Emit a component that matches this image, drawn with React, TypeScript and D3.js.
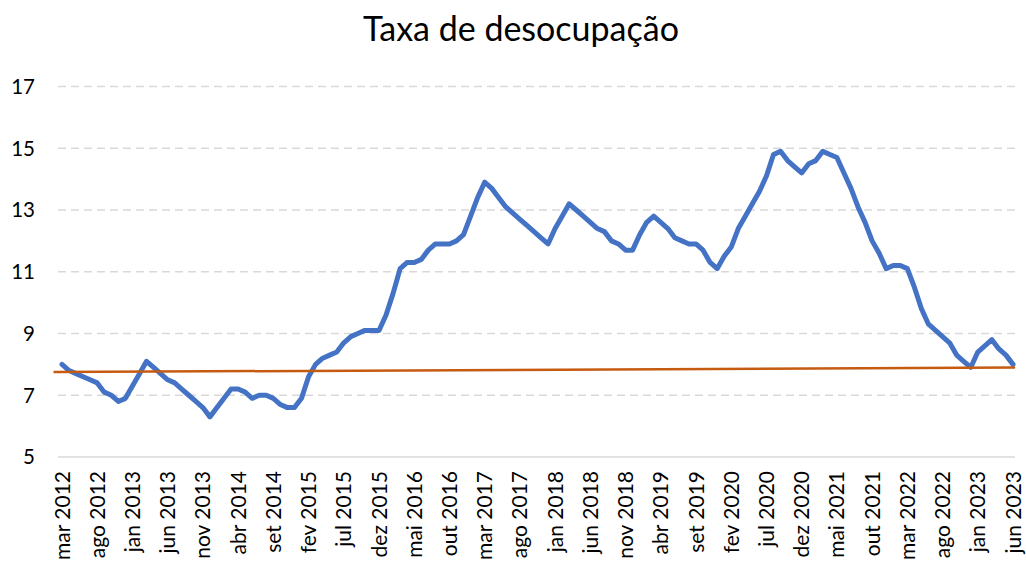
import React from 'react';
import * as d3 from 'd3';

const monthNames = ['jan', 'fev', 'mar', 'abr', 'mai', 'jun', 'jul', 'ago', 'set', 'out', 'nov', 'dez'];
const startYear = 2012;
const startMonth = 2; // mar

// taxa de desocupação, trimestre móvel (mar 2012 .. jun 2023)
const values2012 = [8.0, 7.8, 7.7, 7.6, 7.5, 7.4, 7.1, 7.0, 6.8, 6.9];
const values2013 = [7.3, 7.7, 8.1, 7.9, 7.7, 7.5, 7.4, 7.2, 7.0, 6.8, 6.6, 6.3];
const values2014 = [6.6, 6.9, 7.2, 7.2, 7.1, 6.9, 7.0, 7.0, 6.9, 6.7, 6.6, 6.6];
const values2015 = [6.9, 7.6, 8.0, 8.2, 8.3, 8.4, 8.7, 8.9, 9.0, 9.1, 9.1, 9.1];
const values2016 = [9.6, 10.3, 11.1, 11.3, 11.3, 11.4, 11.7, 11.9, 11.9, 11.9, 12.0, 12.2];
const values2017 = [12.8, 13.4, 13.9, 13.7, 13.4, 13.1, 12.9, 12.7, 12.5, 12.3, 12.1, 11.9];
const values2018 = [12.4, 12.8, 13.2, 13.0, 12.8, 12.6, 12.4, 12.3, 12.0, 11.9, 11.7, 11.7];
const values2019 = [12.2, 12.6, 12.8, 12.6, 12.4, 12.1, 12.0, 11.9, 11.9, 11.7, 11.3, 11.1];
const values2020 = [11.5, 11.8, 12.4, 12.8, 13.2, 13.6, 14.1, 14.8, 14.9, 14.6, 14.4, 14.2];
const values2021 = [14.5, 14.6, 14.9, 14.8, 14.7, 14.2, 13.7, 13.1, 12.6, 12.0, 11.6, 11.1];
const values2022 = [11.2, 11.2, 11.1, 10.5, 9.8, 9.3, 9.1, 8.9, 8.7, 8.3, 8.1, 7.9];
const values2023 = [8.4, 8.6, 8.8, 8.5, 8.3, 8.0];

const values = [
  ...values2012, ...values2013, ...values2014, ...values2015, ...values2016, ...values2017,
  ...values2018, ...values2019, ...values2020, ...values2021, ...values2022, ...values2023,
];

const labels = values.map((_, i) => {
  const m = startMonth + i;
  return `${monthNames[m % 12]} ${startYear + Math.floor(m / 12)}`;
});

// linha de tendência (início e fim)
const trendIdx = [-1.2, values.length - 1 + 0.3];
const trendVals = [7.75, 7.9];

const yTicks = [5, 7, 9, 11, 13, 15, 17];
const labelStep = 5;

const W = 1026;
const H = 562;
const font = 'Lato, "Open Sans", sans-serif';

const App = () => {
  const x = d3.scaleLinear().domain([0, values.length - 1]).range([62, 1013]);
  const y = d3.scaleLinear().domain([5, 17]).range([457, 86.5]);
  const gridL = 58;
  const gridR = 1015;

  const line = d3.line<number>()
    .x((_, i) => x(i))
    .y((d) => y(d))
    .curve(d3.curveLinear);

  const trend = d3.line<number>()
    .x((_, i) => x(trendIdx[i]))
    .y((d) => y(d));

  return (
    <svg width={W} height={H} style={{ position: 'absolute', left: 0, top: 0, background: '#fff' }} fontFamily={font}>
      <text x={521} y={41} textAnchor="middle" fontSize={34} fill="#000">Taxa de desocupação</text>

      {yTicks.map((t) => (
        <g key={t}>
          <line
            x1={gridL} x2={gridR} y1={y(t)} y2={y(t)}
            stroke="#d9d9d9" strokeWidth={1.4}
            strokeDasharray={t === 5 ? undefined : '8,5'}
          />
          <text x={35} y={y(t)} dy="0.36em" textAnchor="end" fontSize={20.5} fill="#000">{t}</text>
        </g>
      ))}

      {labels.map((l, i) => i % labelStep === 0 ? (
        <text
          key={l}
          transform={`translate(${x(i)},471) rotate(-90)`}
          dy="0.36em"
          textAnchor="end"
          fontSize={21}
          fill="#000"
        >{l}</text>
      ) : null)}

      <path d={line(values) || ''} fill="none" stroke="#4472C4" strokeWidth={5} strokeLinejoin="round" strokeLinecap="round" />
      <path d={trend(trendVals) || ''} fill="none" stroke="#C55A11" strokeWidth={2.5} />
    </svg>
  );
};

export default App;
